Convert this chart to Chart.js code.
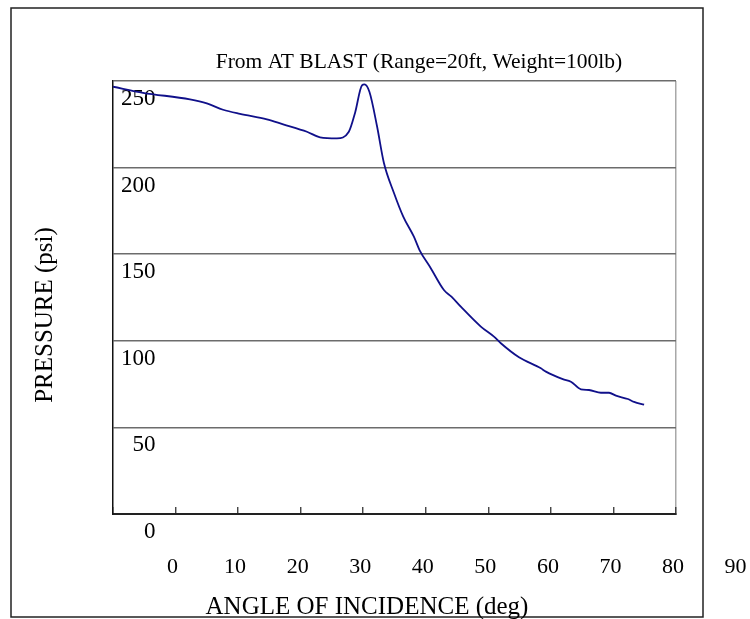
<!DOCTYPE html>
<html>
<head>
<meta charset="utf-8">
<script src="https://cdn.jsdelivr.net/npm/chart.js@4/dist/chart.umd.min.js"></script>
<style>
  html, body { margin: 0; padding: 0; background: #ffffff; }
  #wrap { width: 750px; height: 619px; }
</style>
</head>
<body>
<div id="wrap"><canvas id="c" width="750" height="619"></canvas></div>
<script>
// ---- data ----
const angles = [-10, -5.2, 2.3, 5.0, 7.6, 10.3, 14.6, 17.2, 21.0, 23.1, 25.8, 27.7, 28.7, 29.8, 30.2, 31.0,
  32.2, 33.3, 34.9, 36.4, 38.1, 39.0, 40.8, 42.9, 44.1, 45.6, 48.8, 50.9, 52.0, 54.9, 58.4, 59.2,
  61.9, 63.2, 64.8, 66.1, 68.0, 69.3, 70.4, 72.3, 73.3, 74.9];
const pressures = [246.7, 243.2, 239.4, 237.1, 233.4, 231.0, 227.9, 225.0, 220.7, 217.5, 216.9, 220.7, 231.7, 247.5, 248.0, 243.6,
  224.0, 202.8, 185.5, 171.7, 160.1, 152.4, 141.9, 129.3, 125.5, 119.7, 108.2, 102.4, 98.6, 90.5, 84.1, 82.2,
  77.9, 76.4, 72.0, 71.6, 70.0, 70.0, 68.3, 66.4, 64.7, 63.1];
const xTickLabels = [0, 10, 20, 30, 40, 50, 60, 70, 80, 90];
const yTicks = [0, 50, 100, 150, 200, 250];
const chartTitle = 'From AT BLAST (Range=20ft, Weight=100lb)';
const xTitle = 'ANGLE OF INCIDENCE (deg)';
const yTitle = 'PRESSURE (psi)';

const FONT = "'Liberation Serif', 'Times New Roman', serif";
Chart.defaults.font.family = FONT;
Chart.defaults.color = '#000';

const points = angles.map((a, i) => ({ x: a, y: pressures[i] }));

const decor = {
  id: 'decor',
  beforeDraw(chart) {
    const c = chart.ctx;
    c.save();
    c.fillStyle = '#fff';
    c.fillRect(0, 0, chart.width, chart.height);
    c.restore();
  },
  afterDraw(chart) {
    const c = chart.ctx;
    const xs = chart.scales.x;
    c.save();
    // outer frame
    c.strokeStyle = '#222';
    c.lineWidth = 1.5;
    c.strokeRect(11, 8, 692, 609);
    c.fillStyle = '#000';
    // title
    c.font = '21.5px ' + FONT;
    c.textAlign = 'center';
    c.textBaseline = 'alphabetic';
    c.fillText(chartTitle, 419, 68);
    // x tick labels (placed through the x scale)
    c.font = '22px ' + FONT;
    c.textBaseline = 'middle';
    xTickLabels.forEach(v => {
      c.fillText(String(v), xs.getPixelForValue(v) - 3, 567);
    });
    // x title
    c.font = '25px ' + FONT;
    c.textBaseline = 'alphabetic';
    c.fillText(xTitle, 367, 614);
    // y title
    c.translate(45, 315);
    c.rotate(-Math.PI / 2);
    c.textBaseline = 'middle';
    c.fillText(yTitle, 0, 0);
    c.restore();
  }
};

new Chart(document.getElementById('c'), {
  type: 'line',
  data: {
    datasets: [{
      data: points,
      borderColor: '#10108a',
      borderWidth: 1.8,
      pointRadius: 0,
      fill: false,
      cubicInterpolationMode: 'monotone'
    }]
  },
  options: {
    responsive: false,
    animation: false,
    devicePixelRatio: 1,
    layout: { padding: { left: 113, top: 81, right: 74, bottom: 105 } },
    plugins: { legend: { display: false }, title: { display: false }, tooltip: { enabled: false } },
    scales: {
      x: {
        type: 'linear',
        min: -10,
        max: 80,
        afterFit(axis) { axis.height = 0; },
        ticks: { display: false, stepSize: 10 },
        grid: {
          drawOnChartArea: true,
          drawTicks: true,
          tickLength: -7,
          lineWidth: 1.5,
          color: ctx => (ctx.tick && ctx.tick.value === 80) ? '#a8a8a8' : 'rgba(0,0,0,0)',
          tickColor: '#333',
          tickWidth: 1.3
        },
        border: { display: true, color: '#222', width: 2 }
      },
      y: {
        type: 'linear',
        min: 0,
        max: 250,
        afterFit(axis) { axis.width = 0; },
        afterBuildTicks(axis) { axis.ticks = yTicks.map(v => ({ value: v })); },
        ticks: {
          mirror: true,
          crossAlign: 'far',
          padding: 8,
          labelOffset: 18,
          font: { size: 23, family: FONT },
          color: '#000'
        },
        grid: { drawTicks: false, color: '#6c6c6c', lineWidth: 1.6 },
        border: { display: true, color: '#111', width: 1.5 }
      }
    }
  },
  plugins: [decor]
});
</script>
</body>
</html>
